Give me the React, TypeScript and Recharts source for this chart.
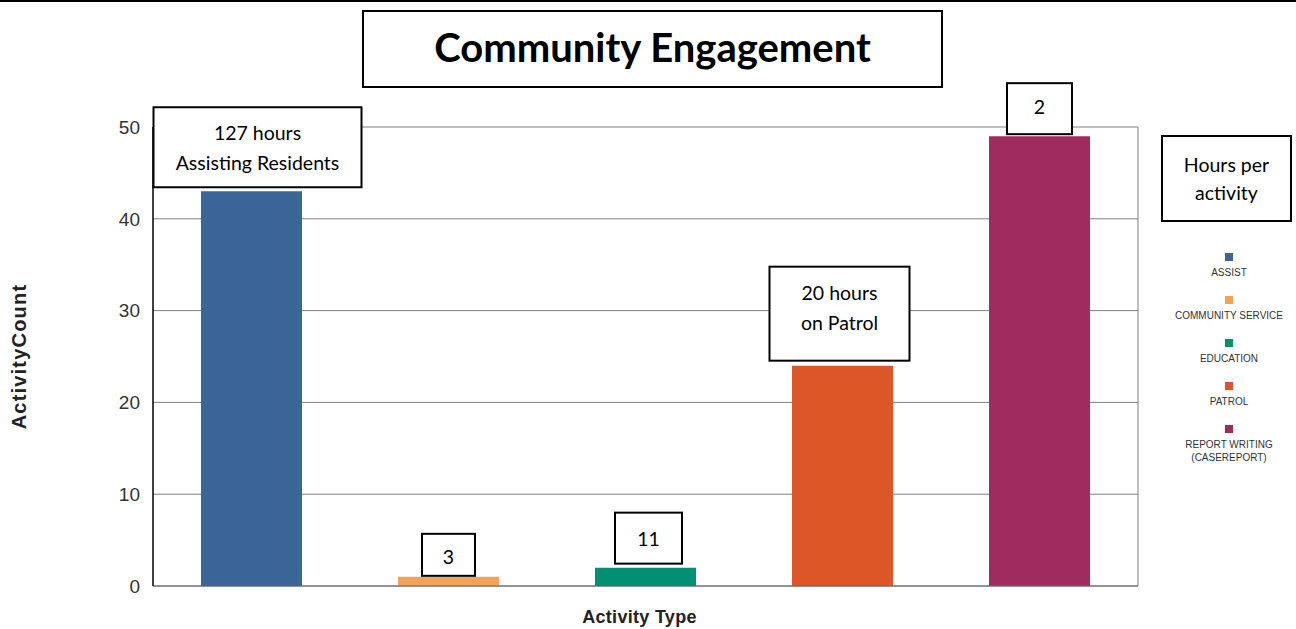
import { BarChart, Bar, XAxis, YAxis, CartesianGrid, Cell, LabelList, Legend } from "recharts";

const categories = ["ASSIST", "COMMUNITY SERVICE", "EDUCATION", "PATROL", "REPORT WRITING (CASEREPORT)"];
const activityCounts = [43, 1, 2, 24, 49];
const hourNotes = [["127 hours", "Assisting Residents"], ["3"], ["11"], ["20 hours", "on Patrol"], ["2"]];
const yTicks = [0, 10, 20, 30, 40, 50];

const barColors = ["#3a6596", "#f0a35a", "#019071", "#dd5627", "#a02c5f"];
// size of each note box and how far it sits from its bar
const noteBoxes = [
  { w: 208, h: 80, gap: 4, dx: 6, ty: 0 },
  { w: 53, h: 42, gap: 1, dx: 0, ty: 2 },
  { w: 67, h: 51, gap: 4, dx: 3, ty: 0 },
  { w: 140, h: 94, gap: 5, dx: -3, ty: -6 },
  { w: 65, h: 51, gap: 2, dx: 0, ty: -2 },
];

const chartData = categories.map((name, i) => ({ name, count: activityCounts[i] }));

const calibri = "Lato, 'Open Sans', sans-serif";
const arial = "'Liberation Sans', Arial, sans-serif";

function NoteBox(props: any) {
  const { x, y, width, index } = props;
  const box = noteBoxes[index];
  const lines = hourNotes[index];
  const cx = x + width / 2 + box.dx;
  const top = y - box.gap - box.h;
  const lineH = 30;
  const startY = top + box.h / 2 - ((lines.length - 1) * lineH) / 2 + box.ty;
  return (
    <g>
      <rect x={cx - box.w / 2} y={top} width={box.w} height={box.h} fill="#fff" stroke="#000" strokeWidth={2} />
      {lines.map((t, k) => (
        <text key={k} x={cx} y={startY + k * lineH} textAnchor="middle" dominantBaseline="central"
          fontFamily={calibri} fontSize={19.5} fill="#000">
          {t}
        </text>
      ))}
    </g>
  );
}

const renderLegend = () => (
  <div style={{ width: 130, fontFamily: arial, fontSize: 10, color: "#333", textAlign: "center" }}>
    {categories.map((c, i) => (
      <div key={c} style={{ height: 43 }}>
        <div style={{ width: 8, height: 8, background: barColors[i], margin: "0 auto 5px" }} />
        <div style={{ lineHeight: "13px", width: 118, margin: "0 auto" }}>{c}</div>
      </div>
    ))}
  </div>
);

export default function App() {
  return (
    <div style={{ position: "absolute", left: 0, top: 0, width: 1296, height: 629, background: "#fff" }}>
      <div style={{ position: "absolute", left: 0, top: 0, width: 1296, height: 2, background: "#000" }} />
      <BarChart width={1296} height={629} data={chartData} margin={{ top: 127, right: 158, bottom: 0, left: 13 }}>
        <CartesianGrid horizontal vertical stroke="#7f7f7f"
          verticalCoordinatesGenerator={({ offset }: any) => [offset.left + offset.width]} />
        <CartesianGrid horizontal={false} vertical stroke="#000"
          verticalCoordinatesGenerator={({ offset }: any) => [offset.left]} />
        <XAxis
          dataKey="name"
          tick={false}
          tickLine={false}
          height={43}
          axisLine={{ stroke: "#666" }}
          label={{
            content: (p: any) => (
              <text x={p.viewBox.x + p.viewBox.width / 2 - 6} y={p.viewBox.y + 31} textAnchor="middle"
                dominantBaseline="central" fontFamily={arial} fontWeight="bold" fontSize={18}
                letterSpacing={0.3} fill="#222">
                Activity Type
              </text>
            ),
          }}
        />
        <YAxis
          domain={[0, 50]}
          ticks={yTicks}
          width={140}
          tickLine={false}
          tickSize={6}
          tickMargin={7}
          axisLine={{ stroke: "#000" }}
          tick={{ fontSize: 19, fill: "#333", fontFamily: arial }}
          label={{
            content: (p: any) => {
              const cx = 19;
              const cy = p.viewBox.y + p.viewBox.height / 2;
              return (
                <text x={cx} y={cy} transform={`rotate(-90 ${cx} ${cy})`} textAnchor="middle"
                  dominantBaseline="central" fontFamily={arial} fontWeight="bold" fontSize={20}
                  letterSpacing={1.2} fill="#222">
                  ActivityCount
                </text>
              );
            },
          }}
        />
        <Legend layout="vertical" align="center" verticalAlign="middle" content={renderLegend}
          wrapperStyle={{ left: 1164, top: 253, width: 130 }} />
        <Bar dataKey="count" barSize={101} isAnimationActive={false}>
          {chartData.map((d, i) => (
            <Cell key={d.name} fill={barColors[i]} />
          ))}
          <LabelList dataKey="count" content={NoteBox} />
        </Bar>
      </BarChart>
      <div style={{
        position: "absolute", left: 362, top: 10, width: 581, height: 78, border: "2px solid #000",
        boxSizing: "border-box", display: "flex", alignItems: "center", justifyContent: "center",
        fontFamily: calibri, fontWeight: "bold", fontSize: 40, color: "#000", paddingBottom: 4,
      }}>
        Community Engagement
      </div>
      <div style={{
        position: "absolute", left: 1161, top: 135, width: 131, height: 87, border: "2px solid #000",
        boxSizing: "border-box", display: "flex", alignItems: "center", justifyContent: "center",
        textAlign: "center", fontFamily: calibri, fontSize: 19.5, lineHeight: "28px", color: "#000",
      }}>
        Hours per<br />activity
      </div>
    </div>
  );
}
